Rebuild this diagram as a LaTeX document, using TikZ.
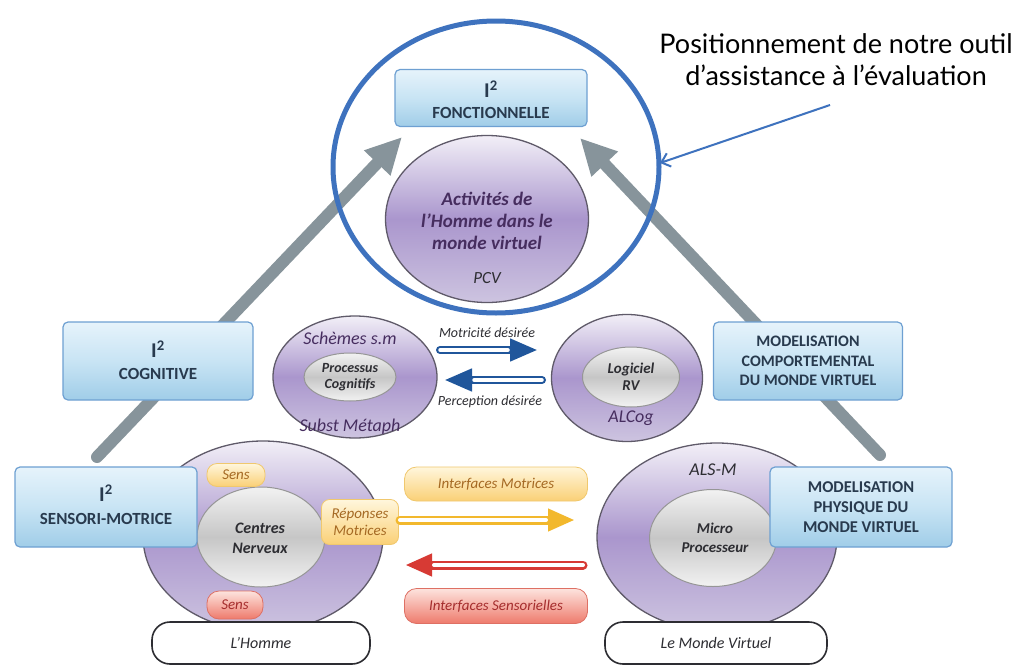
\documentclass[tikz,border=0pt]{standalone}
\usepackage{fontspec}
\setmainfont{Carlito}
\newfontfamily\callfont{Lato}
\usetikzlibrary{arrows.meta,shapes.geometric,calc}
\definecolor{boxtop}{RGB}{230,243,251}
\definecolor{boxmid}{RGB}{200,228,244}
\definecolor{boxbot}{RGB}{160,205,232}
\definecolor{boxline}{RGB}{110,160,210}
\definecolor{boxtext}{RGB}{40,58,78}
\definecolor{purtop}{RGB}{242,239,247}
\definecolor{purmid}{RGB}{170,150,205}
\definecolor{purbot}{RGB}{205,196,224}
\definecolor{purline}{RGB}{95,90,105}
\definecolor{purtext}{RGB}{70,45,95}
\definecolor{graytop}{RGB}{242,242,242}
\definecolor{graymid}{RGB}{198,198,198}
\definecolor{grayline}{RGB}{150,150,150}
\definecolor{darktext}{RGB}{45,45,50}
\definecolor{arrgray}{RGB}{135,148,155}
\definecolor{ringblue}{RGB}{62,114,190}
\definecolor{darkblue}{RGB}{32,86,155}
\definecolor{ylwtop}{RGB}{255,246,220}
\definecolor{ylwbot}{RGB}{250,208,118}
\definecolor{ylwline}{RGB}{240,200,110}
\definecolor{ylwtext}{RGB}{165,105,35}
\definecolor{redtop}{RGB}{253,228,222}
\definecolor{redbot}{RGB}{238,122,108}
\definecolor{redline}{RGB}{222,112,100}
\definecolor{redtext}{RGB}{165,45,45}
\definecolor{ylwarrow}{RGB}{242,184,45}
\definecolor{redarrow}{RGB}{215,58,52}
\newcommand{\mybfont}{\bfseries\fontsize{17}{20}\selectfont}
\begin{document}
\begin{tikzpicture}[x=1pt,y=-1pt,
  bluebox/.style={rectangle, rounded corners=5pt, top color=boxtop, bottom color=boxbot, middle color=boxmid, draw=boxline, line width=1.2pt, text=boxtext, align=center, inner sep=0pt, font=\mybfont},
  boxlabel/.style={text=boxtext, font=\mybfont, inner sep=0pt, align=center},
  isq/.style={text=boxtext, font=\bfseries\fontsize{21}{21}\selectfont, inner sep=0pt},
  purell/.style={ellipse, draw=purline, line width=1.3pt, top color=purtop, bottom color=purbot, middle color=purmid, inner sep=0pt},
  grayell/.style={ellipse, draw=grayline, line width=1pt, top color=graytop, bottom color=graytop, middle color=graymid, inner sep=0pt},
  ylwpill/.style={rectangle, rounded corners=10pt, top color=ylwtop, bottom color=ylwbot, draw=ylwline, line width=0.8pt, inner sep=0pt, text=ylwtext, font=\itshape\fontsize{15}{18}\selectfont, align=center},
  redpill/.style={rectangle, rounded corners=10pt, top color=redtop, bottom color=redbot, draw=redline, line width=0.8pt, inner sep=0pt, text=redtext, font=\itshape\fontsize{15}{18}\selectfont, align=center},
  whitepill/.style={rectangle, rounded corners=18pt, fill=white, draw=darktext, line width=1.6pt, inner sep=0pt, text=darktext, font=\itshape\fontsize{16}{18}\selectfont},
  purlabel/.style={text=purtext, font=\itshape\fontsize{18}{20}\selectfont, inner sep=0pt},
  innerlabel/.style={text=darktext, font=\bfseries\itshape\fontsize{15}{17}\selectfont, align=center, inner sep=0pt},
  smalllabel/.style={text=darktext, font=\itshape\fontsize{14}{16}\selectfont, inner sep=0pt},
  grayarrow/.style={draw=arrgray, line width=12pt, line cap=round, -{Triangle[length=36pt,width=34pt]}},
]
\useasboundingbox (0,0) rectangle (1018,667);
\fill[white] (0,0) rectangle (1018,667);
% big grey arrows
\coordinate (gl0) at (97,457); \coordinate (gl1) at (402,137);
\coordinate (gr0) at (880,455); \coordinate (gr1) at (580,138);
\draw[grayarrow] (gl0) -- (gl1);
\draw[grayarrow] (gr0) -- (gr1);
% top: PCV
\node[bluebox, minimum width=192, minimum height=57] (fonc) at (491,98) {};
\node[isq] (foncI) at (491,89) {I\textsuperscript{2}};
\node[boxlabel] (foncl) at (491,113) {FONCTIONNELLE};
\node[purell, minimum width=203, minimum height=167] (pcv) at (487,219) {};
\node[text=purtext, font=\bfseries\itshape\fontsize{19}{22}\selectfont, align=center, inner sep=0pt] (act) at (487,221) {Activités de\\l'Homme dans le\\monde virtuel};
\node[text=darktext, font=\itshape\fontsize{17}{18}\selectfont, inner sep=0pt] (pcvl) at (487,278) {PCV};
% middle left
\node[purell, minimum width=164, minimum height=122] (sch) at (355,377) {};
\node[grayell, minimum width=92, minimum height=48] (proc) at (350,377) {};
\node[innerlabel, font=\bfseries\itshape\fontsize{14}{16}\selectfont] (procl) at (350,377) {Processus\\Cognitifs};
\node[purlabel] (schl) at (350,338) {Schèmes s.m};
\node[purlabel] (subl) at (350,427) {Subst Métaph};
% middle right
\node[purell, minimum width=151, minimum height=127] (alc) at (627,378) {};
\node[grayell, minimum width=97, minimum height=60] (logi) at (631,377) {};
\node[innerlabel, font=\bfseries\itshape\fontsize{15}{17}\selectfont] (logil) at (631,377) {Logiciel\\RV};
\node[purlabel] (alcl) at (631,418) {ALCog};
% blue arrows
\coordinate (b1a) at (440,350); \coordinate (b1b) at (538,350);
\coordinate (b2a) at (542,380); \coordinate (b2b) at (444,380);
\foreach \s/\t in {b1a/b1b, b2a/b2b}{
  \draw[darkblue, line width=8pt, line cap=round, -{Triangle[length=28pt,width=21pt]}] (\s) -- (\t);
  \draw[white, line width=3.5pt, line cap=round] (\s) -- ($(\t)!30pt!(\s)$);
}
\node[smalllabel] (motl) at (487,333) {Motricité désirée};
\node[smalllabel] (perl) at (490,402) {Perception désirée};
% bottom left: L'Homme
\node[purell, minimum width=240, minimum height=190] (hom) at (263,536) {};
\node[grayell, minimum width=128, minimum height=100] (cen) at (261,537) {};
\node[innerlabel, font=\bfseries\itshape\fontsize{16}{20}\selectfont] (cenl) at (260,538) {Centres\\Nerveux};
\node[ylwpill, minimum width=58, minimum height=23, font=\itshape\fontsize{15}{17}\selectfont] (sens1) at (236,475) {Sens};
\node[redpill, minimum width=56, minimum height=28, rounded corners=12pt, font=\itshape\fontsize{15}{17}\selectfont] (sens2) at (235,605) {Sens};
\node[ylwpill, minimum width=77, minimum height=45, rounded corners=8pt, font=\itshape\fontsize{15}{17}\selectfont] (rep) at (360,522) {Réponses\\Motrices};
\node[whitepill, minimum width=218, minimum height=42] (homl) at (261,643) {L'Homme};
% bottom right: Le Monde Virtuel
\node[purell, minimum width=240, minimum height=188] (mon) at (717,537) {};
\node[grayell, minimum width=127, minimum height=97] (mic) at (713,538) {};
\node[innerlabel, font=\bfseries\itshape\fontsize{15}{19}\selectfont] (micl) at (715,538) {Micro\\Processeur};
\node[text=darktext, font=\itshape\fontsize{18}{20}\selectfont, inner sep=0pt] (alsm) at (713,470) {ALS-M};
\node[whitepill, minimum width=222, minimum height=42] (monl) at (716,643) {Le Monde Virtuel};
% interfaces
\node[ylwpill, minimum width=183, minimum height=34, rounded corners=12pt] (imot) at (496,484) {Interfaces Motrices};
\node[redpill, minimum width=183, minimum height=35, rounded corners=12pt] (isen) at (496,606) {Interfaces Sensorielles};
\coordinate (y1a) at (400,520); \coordinate (y1b) at (575,520);
\coordinate (r1a) at (583,565); \coordinate (r1b) at (405,565);
\draw[ylwarrow, line width=9pt, line cap=round, -{Triangle[length=27pt,width=21pt]}] (y1a) -- (y1b);
\draw[white, line width=4pt, line cap=round] (y1a) -- ($(y1b)!29pt!(y1a)$);
\draw[redarrow, line width=9pt, line cap=round, -{Triangle[length=27pt,width=21pt]}] (r1a) -- (r1b);
\draw[white, line width=4pt, line cap=round] (r1a) -- ($(r1b)!29pt!(r1a)$);
% side boxes
\node[bluebox, minimum width=190, minimum height=78] (cog) at (158,361) {};
\node[isq] (cogI) at (158,349) {I\textsuperscript{2}};
\node[boxlabel] (cogl) at (158,374) {COGNITIVE};
\node[bluebox, minimum width=182, minimum height=80] (sen) at (106,507) {};
\node[isq] (senI) at (106,493) {I\textsuperscript{2}};
\node[boxlabel] (senl) at (106,519) {SENSORI-MOTRICE};
\node[bluebox, minimum width=189, minimum height=78, font=\bfseries\fontsize{16}{19.5}\selectfont] (comp) at (808,361) {MODELISATION\\COMPORTEMENTAL\\DU MONDE VIRTUEL};
\node[bluebox, minimum width=182, minimum height=80, font=\bfseries\fontsize{16.5}{20}\selectfont] (phys) at (861,507) {MODELISATION\\PHYSIQUE DU\\MONDE VIRTUEL};
% blue ring and callout
\draw[ringblue, line width=5pt] (496,167) ellipse [x radius=163, y radius=146];
\node[font=\callfont\fontsize{27}{32}\selectfont, align=center, inner sep=0pt] (call) at (836,60) {Positionnement de notre outil\\d’assistance à l’évaluation};
\coordinate (ct) at (830,105); \coordinate (ch) at (660,163);
\draw[ringblue, line width=2pt, -{Straight Barb[length=8pt,width=14pt]}] (ct) -- (ch);
\end{tikzpicture}
\end{document}
